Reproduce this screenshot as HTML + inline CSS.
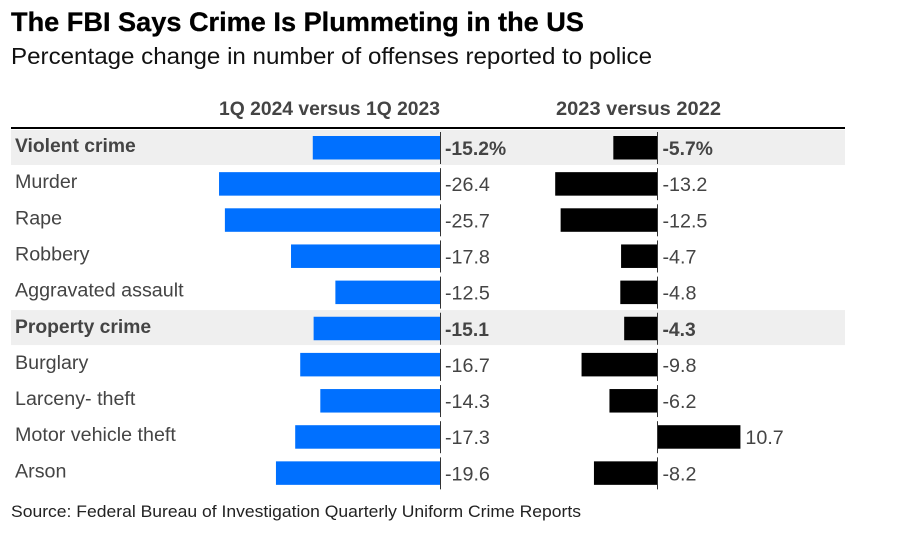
<!DOCTYPE html>
<html>
<head>
<meta charset="utf-8">
<style>
html,body{margin:0;padding:0;background:#fff;}
svg{display:block;font-family:"Liberation Sans",sans-serif;}
</style>
</head>
<body>
<svg id="chart" width="920" height="538" viewBox="0 0 920 538" xmlns="http://www.w3.org/2000/svg">
<text x="11" y="31" font-size="27" font-weight="700" fill="#000" stroke="#000" stroke-width="0.3" textLength="573" lengthAdjust="spacingAndGlyphs">The FBI Says Crime Is Plummeting in the US</text>
<text x="11" y="64" font-size="23.5" fill="#111" textLength="641" lengthAdjust="spacingAndGlyphs">Percentage change in number of offenses reported to police</text>
<text x="219" y="115" font-size="19.5" font-weight="700" fill="#444" textLength="221" lengthAdjust="spacingAndGlyphs">1Q 2024 versus 1Q 2023</text>
<text x="556" y="115" font-size="19.5" font-weight="700" fill="#444" textLength="165" lengthAdjust="spacingAndGlyphs">2023 versus 2022</text>
<g id="bands"></g>
<rect x="11" y="127" width="834" height="2" fill="#000"></rect>
<g id="bars"></g>
<g id="labels"></g>
<text x="11" y="517" font-size="17" fill="#222" textLength="570" lengthAdjust="spacingAndGlyphs">Source: Federal Bureau of Investigation Quarterly Uniform Crime Reports</text>
</svg>
<script>
const categories = ["Violent crime","Murder","Rape","Robbery","Aggravated assault","Property crime","Burglary","Larceny- theft","Motor vehicle theft","Arson"];
const quarterValues = [-15.2,-26.4,-25.7,-17.8,-12.5,-15.1,-16.7,-14.3,-17.3,-19.6];
const annualValues = [-5.7,-13.2,-12.5,-4.7,-4.8,-4.3,-9.8,-6.2,10.7,-8.2];
const quarterLabels = ["-15.2%","-26.4","-25.7","-17.8","-12.5","-15.1","-16.7","-14.3","-17.3","-19.6"];
const annualLabels = ["-5.7%","-13.2","-12.5","-4.7","-4.8","-4.3","-9.8","-6.2","10.7","-8.2"];
const boldRows = ["Violent crime","Property crime"];

const NS = "http://www.w3.org/2000/svg";
const xQuarter = v => 440 + v * 8.37;
const xAnnual = v => 657.5 + v * 7.75;
const rowTop = i => 130 + i * 36.15;
const bands = document.getElementById("bands");
const bars = document.getElementById("bars");
const labels = document.getElementById("labels");

function mk(tag, parent, attrs, txt) {
  const el = document.createElementNS(NS, tag);
  for (const k in attrs) el.setAttribute(k, attrs[k]);
  if (txt !== undefined) el.textContent = txt;
  parent.appendChild(el);
  return el;
}

categories.forEach((c, i) => {
  const top = rowTop(i);
  const bold = boldRows.includes(c);
  if (bold) {
    const band = mk("rect", bands, {x: 11, y: top - (i ? 0.7 : 0), width: 834, height: 35, fill: "#efefef"});
    
    
  }
  const weight = bold ? 700 : 400;
  const size = bold ? 19.3 : 19.7;

  const name = mk("text", labels, {x: 15, y: top + 22, "font-size": size, "font-weight": weight, fill: "#444"}, c);
  
  

  const qx = xQuarter(quarterValues[i]);
  const qBar = mk("rect", bars, {x: Math.min(qx, xQuarter(0)), y: top + 6, width: Math.abs(qx - xQuarter(0)), height: 23.5, fill: "#0070ff"});
  
  

  const ax = xAnnual(annualValues[i]);
  const aBar = mk("rect", bars, {x: Math.min(ax, xAnnual(0)), y: top + 6, width: Math.abs(ax - xAnnual(0)), height: 23.5, fill: "#000"});
  
  

  const qAxis = mk("rect", bars, {x: xQuarter(0), y: top + 2, width: 1, height: 32, fill: "#333"});
  
  

  const aAxis = mk("rect", bars, {x: xAnnual(0) - 0.5, y: top + 2, width: 1, height: 32, fill: "#333"});
  
  

  const qVal = mk("text", labels, {x: xQuarter(0) + 5, y: top + 25, "font-size": size, "font-weight": weight, fill: "#444"}, quarterLabels[i]);
  
  

  const aVal = mk("text", labels, {x: Math.max(ax, xAnnual(0)) + 5, y: top + 25, "font-size": size, "font-weight": weight, fill: "#444"}, annualLabels[i]);
  
  
});
</script>
</body>
</html>
